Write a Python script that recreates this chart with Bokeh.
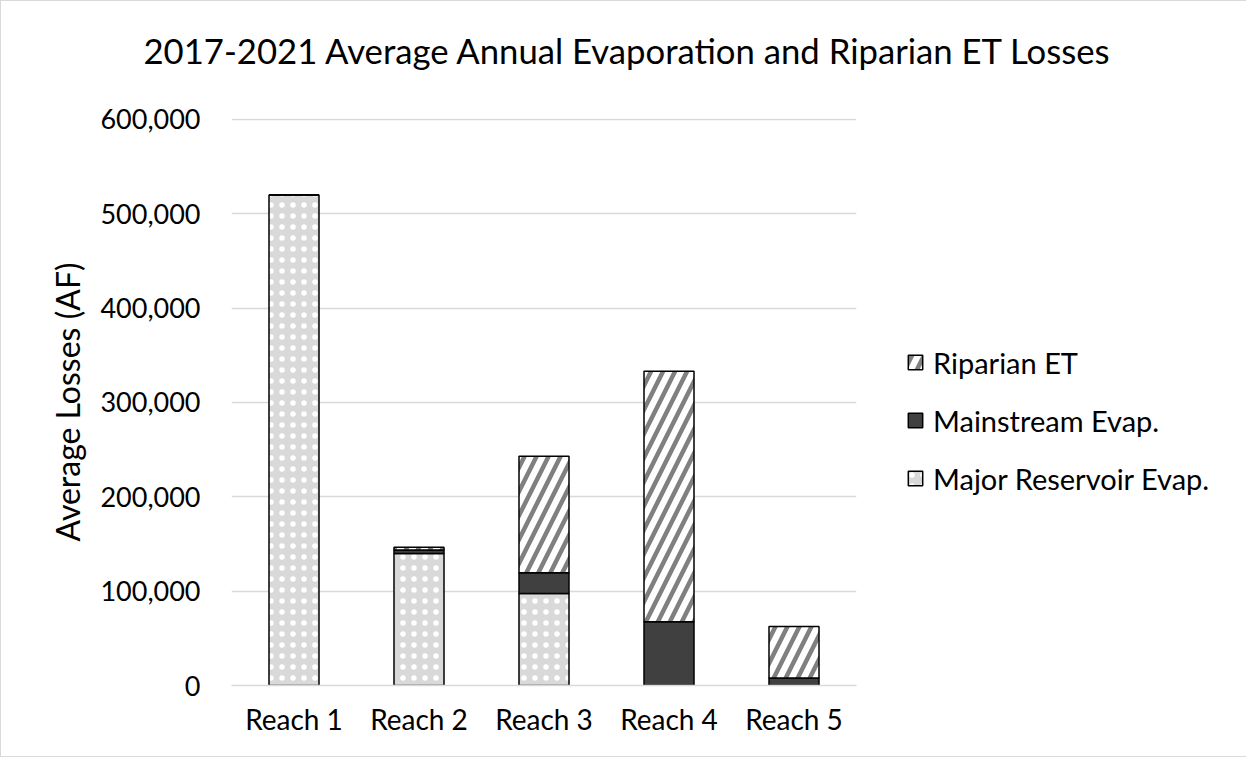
from bokeh.plotting import figure
from bokeh.models import (ColumnDataSource, FactorRange, Range1d, FixedTicker,
                          NumeralTickFormatter, Legend, LegendItem, Title)
from bokeh.embed import file_html
from bokeh.resources import INLINE

# ---- data ----
reaches = ["Reach 1", "Reach 2", "Reach 3", "Reach 4", "Reach 5"]
major_reservoir_evap = [520000, 140000, 97500, 0, 0]
mainstream_evap = [0, 3500, 22000, 67500, 8000]
riparian_et = [0, 3000, 123500, 265500, 54500]
series_labels = ["Major Reservoir Evap.", "Mainstream Evap.", "Riparian ET"]
y_tick_values = [0, 100000, 200000, 300000, 400000, 500000, 600000]
title_text = "2017-2021 Average Annual Evaporation and Riparian ET Losses"
y_label = "Average Losses (AF)"

FONT = "Lato"

src = ColumnDataSource(dict(reach=reaches, major=major_reservoir_evap,
                            mainstream=mainstream_evap, riparian=riparian_et))

p = figure(x_range=FactorRange(*reaches, range_padding=0),
           y_range=Range1d(0, 601000),
           frame_width=625, frame_height=567,
           min_border_left=230, min_border_right=383,
           min_border_top=117, min_border_bottom=71,
           output_backend="svg", toolbar_location=None,
           background_fill_color="white", border_fill_color="white")
p.outline_line_color = None
p.styles = {"border": "1px solid #d9d9d9"}

# spacer between frame and title (closest to the frame)
p.add_layout(Title(text=" ", text_font_size="10px", standoff=30), "above")

# title
p.title.text = title_text
p.title.align = "left"
p.title.offset = -88
p.title.standoff = 10
p.title.text_font = FONT
p.title.text_font_size = "34.7px"
p.title.text_font_style = "normal"
p.title.text_color = "#000000"

renderers = p.vbar_stack(["major", "mainstream", "riparian"], x="reach", width=0.4, source=src,
                         fill_color=["#d9d9d9", "#404040", "#ffffff"],
                         hatch_pattern=["dot", " ", "/"],
                         hatch_color=["#ffffff", "#404040", "#808080"],
                         hatch_scale=[11, 12, 24],
                         hatch_weight=[1, 1, 4.5],
                         line_color="#000000", line_width=1.5)

# axes
p.yaxis.ticker = FixedTicker(ticks=y_tick_values)
p.yaxis.formatter = NumeralTickFormatter(format="0,0")
p.yaxis.axis_line_color = None
p.yaxis.major_tick_line_color = None
p.yaxis.minor_tick_line_color = None
p.yaxis.major_tick_out = 0
p.yaxis.major_tick_in = 0
p.yaxis.major_label_standoff = 31
p.yaxis.major_label_text_font = FONT
p.yaxis.major_label_text_font_size = "27px"
p.yaxis.major_label_text_color = "#000000"
p.yaxis.axis_label = y_label
p.yaxis.axis_label_text_font = FONT
p.yaxis.axis_label_text_font_size = "32px"
p.yaxis.axis_label_text_font_style = "normal"
p.yaxis.axis_label_text_color = "#000000"
p.yaxis.axis_label_standoff = 10

p.xaxis.axis_line_color = "#d9d9d9"
p.xaxis.axis_line_width = 1.5
p.xaxis.major_tick_line_color = None
p.xaxis.minor_tick_line_color = None
p.xaxis.major_tick_out = 0
p.xaxis.major_tick_in = 0
p.xaxis.major_label_standoff = 16
p.xaxis.major_label_text_font = FONT
p.xaxis.major_label_text_font_size = "28px"
p.xaxis.major_label_text_color = "#000000"

p.xgrid.grid_line_color = None
p.ygrid.grid_line_color = "#d9d9d9"
p.ygrid.grid_line_width = 1.5

legend = Legend(items=[LegendItem(label=series_labels[2], renderers=[renderers[2]]),
                       LegendItem(label=series_labels[1], renderers=[renderers[1]]),
                       LegendItem(label=series_labels[0], renderers=[renderers[0]])],
                location=(50, 189), orientation="vertical",
                glyph_width=18, glyph_height=18, label_height=36, label_standoff=9,
                spacing=22, padding=0, margin=27,
                border_line_color=None, background_fill_alpha=0,
                label_text_font=FONT, label_text_font_size="29px",
                label_text_color="#000000")
p.add_layout(legend, "right")

open("out.html", "w").write(file_html(p, INLINE))
